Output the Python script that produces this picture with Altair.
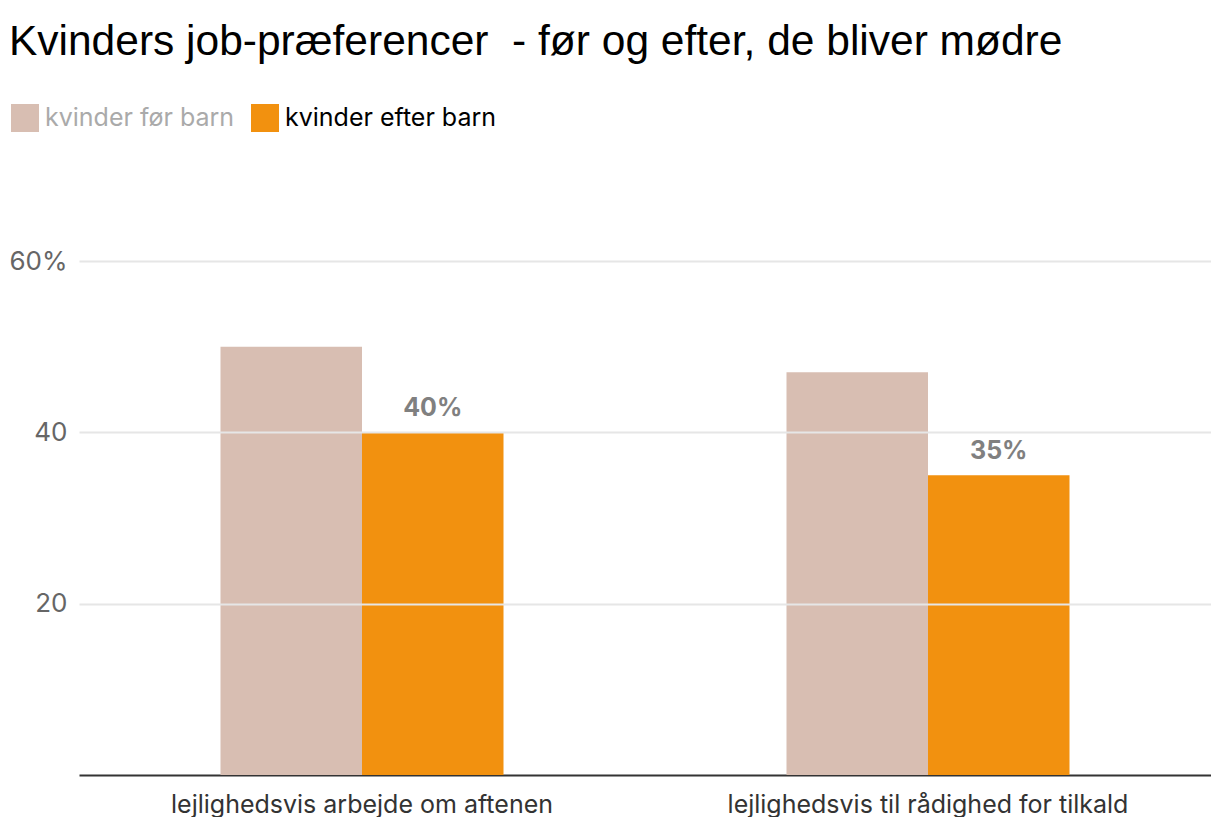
import altair as alt
import pandas as pd

categories = ["lejlighedsvis arbejde om aftenen", "lejlighedsvis til rådighed for tilkald"]
groups = ["kvinder før barn", "kvinder efter barn"]
before = [50, 47]
after = [40, 35]

rows = []
for c, b, a in zip(categories, before, after):
    rows.append({"kategori": c, "gruppe": groups[0], "værdi": b})
    rows.append({"kategori": c, "gruppe": groups[1], "værdi": a})
df = pd.DataFrame(rows)

FONT = "Inter"

x = alt.X("kategori:N", sort=categories, title=None,
          scale=alt.Scale(paddingInner=0.5, paddingOuter=0.25),
          axis=alt.Axis(labelAngle=0, labelFontSize=25, labelColor="#333333",
                        labelFont=FONT, labelPadding=17, ticks=False, labelLimit=600,
                        domainColor="#333333", domainWidth=2, grid=False))
xoff = alt.XOffset("gruppe:N", sort=groups)
y = alt.Y("værdi:Q", title=None,
          scale=alt.Scale(domain=[0, 60], nice=False),
          axis=alt.Axis(values=[20, 40, 60], labelExpr="datum.value == 60 ? '60%' : datum.value",
                        labelFontSize=26, labelColor="#666666", labelFont=FONT,
                        ticks=False, domain=False, labelPadding=12,
                        gridColor="#e6e6e6", gridWidth=2, zindex=1))

bars = alt.Chart(df).mark_bar().encode(
    x=x, xOffset=xoff, y=y,
    color=alt.Color("gruppe:N", sort=groups,
                    scale=alt.Scale(domain=groups, range=["#d8beb2", "#f2910f"]),
                    legend=alt.Legend(title=None, orient="none", legendX=-68, legendY=-157,
                                      direction="horizontal", symbolType="square",
                                      symbolSize=784, symbolStrokeWidth=0,
                                      labelFontSize=25, labelFont=FONT, labelOffset=6,
                                      columnPadding=16, labelLimit=400,
                                      labelColor=alt.ExprRef("datum.value == 'kvinder før barn' ? '#aaaaaa' : '#000000'")))
)

labels = alt.Chart(df).transform_filter(
    alt.datum.gruppe == groups[1]
).transform_calculate(
    lbl="datum['værdi'] + '%'"
).mark_text(baseline="bottom", dy=-11, fontSize=25, fontWeight="bold",
            color="#808080", font=FONT).encode(
    x=x, xOffset=xoff, y=y, text="lbl:N"
)

chart = alt.layer(bars, labels).properties(
    width=1132, height=514,
    padding={"top": 12, "left": 0, "right": 0, "bottom": 0},
    title=alt.TitleParams("Kvinders job-præferencer\u00a0 - før og efter, de bliver mødre",
                          anchor="start", frame="bounds", fontSize=42.5,
                          font="Liberation Sans", fontWeight="normal", color="#000000",
                          offset=41)
).configure(background="white", view=alt.ViewConfig(stroke=None))

chart.save("out.html", embed_options={"renderer": "svg", "actions": False})
